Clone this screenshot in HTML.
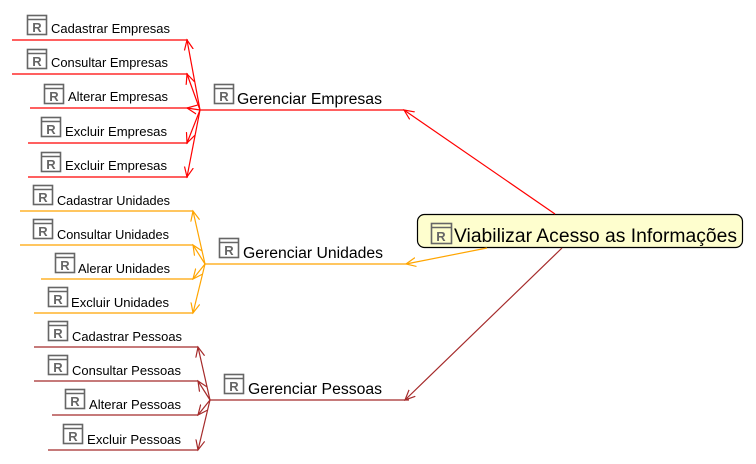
<!DOCTYPE html>
<html><head><meta charset="utf-8"><style>html,body{margin:0;padding:0;background:#fff;width:756px;height:464px;overflow:hidden}svg{display:block}text{font-family:"Liberation Sans",sans-serif}</style></head><body>
<svg width="756" height="464" viewBox="0 0 756 464" xmlns="http://www.w3.org/2000/svg">
<defs>
<marker id="mr" markerWidth="12" markerHeight="12" refX="10" refY="5" orient="auto" markerUnits="userSpaceOnUse"><path d="M0,0.5 L10,5 L0,9.5" fill="none" stroke="#FF0000" stroke-width="1.2"/></marker>
<marker id="mo" markerWidth="12" markerHeight="12" refX="10" refY="5" orient="auto" markerUnits="userSpaceOnUse"><path d="M0,0.5 L10,5 L0,9.5" fill="none" stroke="#FFA500" stroke-width="1.2"/></marker>
<marker id="mb" markerWidth="12" markerHeight="12" refX="10" refY="5" orient="auto" markerUnits="userSpaceOnUse"><path d="M0,0.5 L10,5 L0,9.5" fill="none" stroke="#A52A2A" stroke-width="1.2"/></marker>
</defs>

<rect x="417.5" y="214.5" width="325" height="33" rx="7" fill="#FEFECE" stroke="#000" stroke-width="1.2"/>

<g stroke="#FF0000" stroke-width="1.2" fill="none">
<line x1="555" y1="214" x2="404" y2="110" marker-end="url(#mr)"/>
<line x1="200" y1="110" x2="404" y2="110"/>
<line x1="12" y1="40" x2="188" y2="40"/>
<line x1="12" y1="74" x2="188" y2="74"/>
<line x1="30" y1="108" x2="188" y2="108"/>
<line x1="28" y1="143" x2="188" y2="143"/>
<line x1="28" y1="177" x2="188" y2="177"/>
<line x1="200" y1="110" x2="187" y2="40" marker-end="url(#mr)"/>
<line x1="200" y1="110" x2="187" y2="74" marker-end="url(#mr)"/>
<line x1="200" y1="110" x2="187" y2="108" marker-end="url(#mr)"/>
<line x1="200" y1="110" x2="187" y2="143" marker-end="url(#mr)"/>
<line x1="200" y1="110" x2="187" y2="177" marker-end="url(#mr)"/>
</g>
<g stroke="#FFA500" stroke-width="1.2" fill="none">
<line x1="487" y1="248" x2="406" y2="264" marker-end="url(#mo)"/>
<line x1="205" y1="264" x2="406" y2="264"/>
<line x1="20" y1="211" x2="193" y2="211"/>
<line x1="20" y1="245" x2="193" y2="245"/>
<line x1="41" y1="279" x2="193" y2="279"/>
<line x1="34" y1="313" x2="193" y2="313"/>
<line x1="205" y1="264" x2="193" y2="211" marker-end="url(#mo)"/>
<line x1="205" y1="264" x2="193" y2="245" marker-end="url(#mo)"/>
<line x1="205" y1="264" x2="193" y2="279" marker-end="url(#mo)"/>
<line x1="205" y1="264" x2="193" y2="313" marker-end="url(#mo)"/>
</g>
<g stroke="#A52A2A" stroke-width="1.2" fill="none">
<line x1="562" y1="248" x2="405" y2="400" marker-end="url(#mb)"/>
<line x1="210" y1="400" x2="409" y2="400"/>
<line x1="34" y1="347" x2="198" y2="347"/>
<line x1="34" y1="381" x2="198" y2="381"/>
<line x1="52" y1="415" x2="198" y2="415"/>
<line x1="48" y1="450" x2="198" y2="450"/>
<line x1="210" y1="400" x2="198" y2="347" marker-end="url(#mb)"/>
<line x1="210" y1="400" x2="198" y2="381" marker-end="url(#mb)"/>
<line x1="210" y1="400" x2="198" y2="415" marker-end="url(#mb)"/>
<line x1="210" y1="400" x2="198" y2="450" marker-end="url(#mb)"/>
</g>

<g fill="none" stroke="#666" stroke-width="1.6">
<rect x="27.5" y="15.5" width="19" height="19"/><line x1="27.5" y1="19.5" x2="46.5" y2="19.5"/>
<rect x="27.5" y="49.5" width="19" height="19"/><line x1="27.5" y1="53.5" x2="46.5" y2="53.5"/>
<rect x="44.5" y="84.5" width="19" height="19"/><line x1="44.5" y1="88.5" x2="63.5" y2="88.5"/>
<rect x="41.5" y="117.5" width="19" height="19"/><line x1="41.5" y1="121.5" x2="60.5" y2="121.5"/>
<rect x="41.5" y="152.5" width="19" height="19"/><line x1="41.5" y1="156.5" x2="60.5" y2="156.5"/>
<rect x="33.5" y="185.5" width="19" height="19"/><line x1="33.5" y1="189.5" x2="52.5" y2="189.5"/>
<rect x="33.5" y="219.5" width="19" height="19"/><line x1="33.5" y1="223.5" x2="52.5" y2="223.5"/>
<rect x="55.5" y="253.5" width="19" height="19"/><line x1="55.5" y1="257.5" x2="74.5" y2="257.5"/>
<rect x="48.5" y="287.5" width="19" height="19"/><line x1="48.5" y1="291.5" x2="67.5" y2="291.5"/>
<rect x="48.5" y="321.5" width="19" height="19"/><line x1="48.5" y1="325.5" x2="67.5" y2="325.5"/>
<rect x="48.5" y="355.5" width="19" height="19"/><line x1="48.5" y1="359.5" x2="67.5" y2="359.5"/>
<rect x="65.5" y="389.5" width="19" height="19"/><line x1="65.5" y1="393.5" x2="84.5" y2="393.5"/>
<rect x="63.5" y="424.5" width="19" height="19"/><line x1="63.5" y1="428.5" x2="82.5" y2="428.5"/>
<rect x="214.5" y="84.5" width="19" height="19"/><line x1="214.5" y1="88.5" x2="233.5" y2="88.5"/>
<rect x="219.5" y="238.5" width="19" height="19"/><line x1="219.5" y1="242.5" x2="238.5" y2="242.5"/>
<rect x="224.5" y="374.5" width="19" height="19"/><line x1="224.5" y1="378.5" x2="243.5" y2="378.5"/>
<rect x="431.5" y="223.5" width="20" height="20"/><line x1="431.5" y1="227.5" x2="451.5" y2="227.5"/>
</g>
<g fill="#666" font-weight="bold" font-size="13" text-anchor="middle" style="font-weight:bold">
<text x="37" y="32">R</text><text x="37" y="66">R</text><text x="54" y="101">R</text><text x="51" y="134">R</text><text x="51" y="169">R</text>
<text x="43" y="202">R</text><text x="43" y="236">R</text><text x="65" y="270">R</text><text x="58" y="304">R</text>
<text x="58" y="338">R</text><text x="58" y="372">R</text><text x="75" y="406">R</text><text x="73" y="441">R</text>
<text x="224" y="101">R</text><text x="229" y="255">R</text><text x="234" y="391">R</text><text x="441" y="241">R</text>
</g>

<g fill="#000" font-size="13">
<text x="51" y="33" textLength="119" lengthAdjust="spacingAndGlyphs">Cadastrar Empresas</text>
<text x="51" y="67" textLength="117" lengthAdjust="spacingAndGlyphs">Consultar Empresas</text>
<text x="68" y="101" textLength="100" lengthAdjust="spacingAndGlyphs">Alterar Empresas</text>
<text x="65" y="136" textLength="102" lengthAdjust="spacingAndGlyphs">Excluir Empresas</text>
<text x="65" y="170" textLength="102" lengthAdjust="spacingAndGlyphs">Excluir Empresas</text>
<text x="57" y="205" textLength="113" lengthAdjust="spacingAndGlyphs">Cadastrar Unidades</text>
<text x="57" y="239" textLength="112" lengthAdjust="spacingAndGlyphs">Consultar Unidades</text>
<text x="78" y="273" textLength="92" lengthAdjust="spacingAndGlyphs">Alerar Unidades</text>
<text x="71" y="307" textLength="98" lengthAdjust="spacingAndGlyphs">Excluir Unidades</text>
<text x="72" y="341" textLength="110" lengthAdjust="spacingAndGlyphs">Cadastrar Pessoas</text>
<text x="72" y="375" textLength="109" lengthAdjust="spacingAndGlyphs">Consultar Pessoas</text>
<text x="89" y="409" textLength="92" lengthAdjust="spacingAndGlyphs">Alterar Pessoas</text>
<text x="87" y="444" textLength="94" lengthAdjust="spacingAndGlyphs">Excluir Pessoas</text>
</g>
<g fill="#000" font-size="15.5">
<text x="237" y="104" textLength="145" lengthAdjust="spacingAndGlyphs">Gerenciar Empresas</text>
<text x="243" y="258" textLength="140" lengthAdjust="spacingAndGlyphs">Gerenciar Unidades</text>
<text x="248" y="394" textLength="134" lengthAdjust="spacingAndGlyphs">Gerenciar Pessoas</text>
</g>
<text x="454" y="242" font-size="19" fill="#000" textLength="283" lengthAdjust="spacingAndGlyphs">Viabilizar Acesso as Informações</text>
</svg>
</body></html>
